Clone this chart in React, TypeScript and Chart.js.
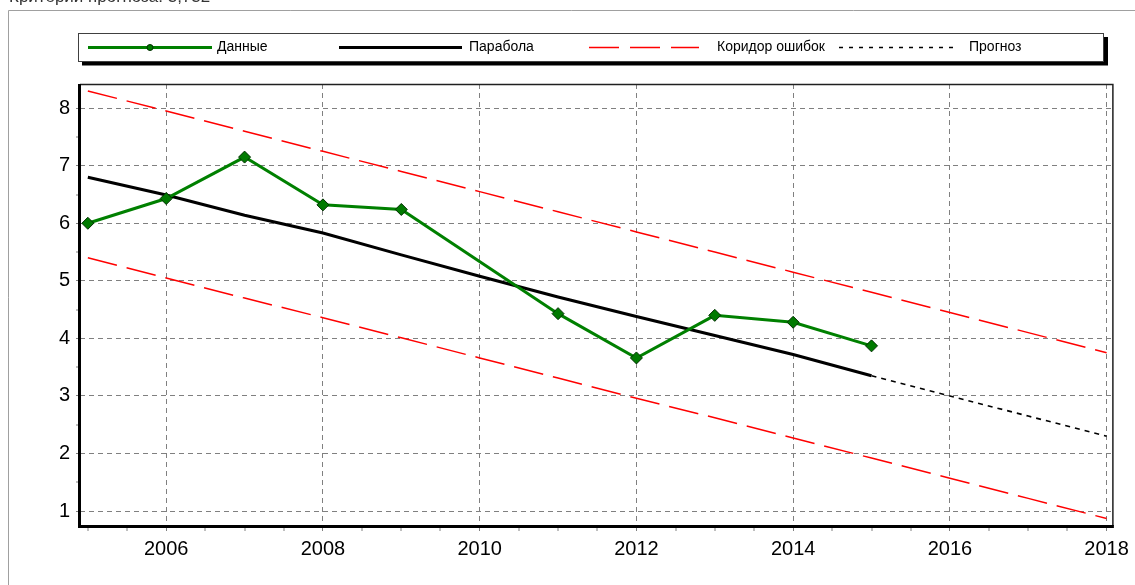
import React, { useEffect, useRef } from 'react';
import { Chart, registerables } from 'chart.js';

Chart.register(...registerables);

const FONT = '"Liberation Sans", Arial, sans-serif';

// ---- data ----
const dataYears = [2005, 2006, 2007, 2008, 2009, 2011, 2012, 2013, 2014, 2015];
const dataValues = [6.0, 6.43, 7.15, 6.32, 6.24, 4.43, 3.66, 4.4, 4.28, 3.87];

const fitYears = [2005, 2006, 2007, 2008, 2009, 2010, 2011, 2012, 2013, 2014, 2015];
const fitValues = [6.8, 6.49, 6.14, 5.83, 5.45, 5.08, 4.72, 4.38, 4.05, 3.72, 3.35];

const forecastYears = [2015, 2016, 2017, 2018];
const forecastValues = [3.35, 3.0, 2.65, 2.3];

const corridorYears = [2005, 2006, 2007, 2008, 2009, 2010, 2011, 2012, 2013, 2014, 2015, 2016, 2017, 2018];
const corridorUpper = [8.3, 7.95, 7.6, 7.25, 6.9, 6.55, 6.2, 5.85, 5.5, 5.15, 4.8, 4.45, 4.1, 3.75];
const corridorLower = [5.4, 5.05, 4.7, 4.36, 4.01, 3.66, 3.31, 2.96, 2.62, 2.27, 1.92, 1.57, 1.22, 0.87];

const seriesLabels = ['Данные', 'Парабола', 'Коридор ошибок', 'Прогноз'];

const xTickLabels = [2006, 2008, 2010, 2012, 2014, 2016, 2018];
const yTickLabels = [1, 2, 3, 4, 5, 6, 7, 8];
const xRange = [2004.9, 2018.08];
const yRange = [0.74, 8.42];
const headerText = 'Критерий прогноза: 3,732';

const pts = (xs: number[], ys: number[]) => xs.map((x, i) => ({ x, y: ys[i] }));

// half-step minor ticks between the first and last labelled values
const halfSteps = (from: number, to: number) => {
  const out: { value: number }[] = [];
  for (let v = from; v <= to + 1e-9; v += 0.5) out.push({ value: Math.round(v * 2) / 2 });
  return out;
};

const W = 1135;
const H = 585;

const framePlugin = {
  id: 'frame',
  beforeDraw(chart: any) {
    const ctx = chart.ctx;
    ctx.save();
    ctx.fillStyle = '#ffffff';
    ctx.fillRect(0, 0, W, H);
    ctx.strokeStyle = '#a0a0a0';
    ctx.lineWidth = 1;
    ctx.beginPath();
    ctx.moveTo(8.5, H);
    ctx.lineTo(8.5, 10.5);
    ctx.lineTo(W, 10.5);
    ctx.stroke();
    ctx.restore();
  },
  afterDatasetsDraw(chart: any) {
    const { left, top, right, bottom } = chart.chartArea;
    const ctx = chart.ctx;
    ctx.save();
    ctx.strokeStyle = '#202020';
    ctx.lineWidth = 1.5;
    ctx.beginPath();
    ctx.moveTo(left, top + 0.5);
    ctx.lineTo(right, top + 0.5);
    ctx.lineTo(right, bottom);
    ctx.stroke();
    ctx.strokeStyle = '#000000';
    ctx.lineWidth = 3;
    ctx.beginPath();
    ctx.moveTo(left - 0.5, top);
    ctx.lineTo(left - 0.5, bottom + 0.5);
    ctx.lineTo(right + 1, bottom + 0.5);
    ctx.stroke();
    ctx.restore();
  },
};

const legendSlots = [
  { x1: 88, x2: 212, tx: 217 },
  { x1: 339, x2: 462, tx: 469 },
  { x1: 589, x2: 699, tx: 717 },
  { x1: 839, x2: 956, tx: 969 },
];

const boxLegendPlugin = {
  id: 'boxLegend',
  afterDraw(chart: any) {
    const ctx = chart.ctx;
    const bx = 78, by = 33, bw = 1025, bh = 28;
    ctx.save();
    ctx.fillStyle = '#000';
    ctx.fillRect(bx + 4, by + 4, bw + 1, bh + 0.5);
    ctx.fillStyle = '#fff';
    ctx.fillRect(bx, by, bw, bh);
    ctx.strokeStyle = '#404040';
    ctx.lineWidth = 1;
    ctx.strokeRect(bx + 0.5, by + 0.5, bw, bh);
    const cy = by + bh / 2 + 0.5;
    const shown = chart.data.datasets.filter((d: any) => !d.hideInLegend);
    shown.forEach((ds: any, i: number) => {
      const s = legendSlots[i];
      if (!s) return;
      ctx.save();
      ctx.strokeStyle = ds.borderColor;
      ctx.lineWidth = ds.borderWidth;
      ctx.setLineDash(ds.legendDash || ds.borderDash || []);
      ctx.beginPath();
      ctx.moveTo(s.x1, cy);
      ctx.lineTo(s.x2, cy);
      ctx.stroke();
      ctx.setLineDash([]);
      if (ds.pointRadius > 0) {
        ctx.fillStyle = ds.pointBackgroundColor;
        ctx.strokeStyle = ds.pointBorderColor;
        ctx.lineWidth = 1;
        ctx.beginPath();
        ctx.arc((s.x1 + s.x2) / 2, cy, 3, 0, Math.PI * 2);
        ctx.fill();
        ctx.stroke();
      }
      ctx.fillStyle = '#000';
      ctx.font = `14px ${FONT}`;
      ctx.textBaseline = 'middle';
      ctx.textAlign = 'left';
      ctx.fillText(ds.label, s.tx, cy);
      ctx.restore();
    });
    ctx.restore();
  },
};

export default function App() {
  const canvasRef = useRef<HTMLCanvasElement | null>(null);

  useEffect(() => {
    const canvas = canvasRef.current;
    if (!canvas) return;
    const chart = new Chart(canvas, {
      type: 'line',
      data: {
        datasets: [
          {
            label: seriesLabels[0],
            data: pts(dataYears, dataValues),
            borderColor: '#008000',
            borderWidth: 3,
            pointStyle: 'rectRot',
            pointRadius: 6,
            pointBackgroundColor: '#007a00',
            pointBorderColor: '#003000',
            pointBorderWidth: 1,
            tension: 0,
          } as any,
          {
            label: seriesLabels[1],
            data: pts(fitYears, fitValues),
            borderColor: '#000000',
            borderWidth: 3,
            pointRadius: 0,
            tension: 0,
          },
          {
            label: seriesLabels[2],
            data: pts(corridorYears, corridorUpper),
            borderColor: '#ff0000',
            borderWidth: 1.5,
            borderDash: [30, 10],
            legendDash: [30, 11],
            pointRadius: 0,
            tension: 0,
          } as any,
          {
            label: seriesLabels[3],
            data: pts(forecastYears, forecastValues),
            borderColor: '#000000',
            borderWidth: 1.6,
            borderDash: [5, 5],
            legendDash: [4, 6],
            pointRadius: 0,
            tension: 0,
          } as any,
          {
            label: seriesLabels[2],
            hideInLegend: true,
            data: pts(corridorYears, corridorLower),
            borderColor: '#ff0000',
            borderWidth: 1.5,
            borderDash: [30, 10],
            pointRadius: 0,
            tension: 0,
          } as any,
        ],
      },
      options: {
        responsive: false,
        animation: false,
        layout: { padding: { left: 0, top: 84, right: 22, bottom: 0 } },
        plugins: {
          legend: { display: false },
          tooltip: { enabled: false },
          title: { display: false },
        },
        scales: {
          x: {
            type: 'linear',
            min: xRange[0],
            max: xRange[1],
            afterBuildTicks: (scale: any) => {
              scale.ticks = halfSteps(xTickLabels[0] - 1, xTickLabels[xTickLabels.length - 1]);
            },
            afterFit: (scale: any) => {
              scale.height = H - 526;
            },
            ticks: {
              autoSkip: false,
              maxRotation: 0,
              padding: 6,
              color: '#000',
              font: { family: FONT, size: 20 },
              callback: (v: any) => (xTickLabels.includes(Number(v)) ? String(v) : ''),
            },
            grid: {
              color: '#808080',
              lineWidth: (c: any) => (c.tick && xTickLabels.includes(c.tick.value) ? 1 : 0),
              tickColor: '#808080',
              tickLength: 5,
              tickWidth: 1,
            },
            border: { display: false, dash: [5, 4] },
          },
          y: {
            type: 'linear',
            min: yRange[0],
            max: yRange[1],
            afterBuildTicks: (scale: any) => {
              scale.ticks = halfSteps(yTickLabels[0], yTickLabels[yTickLabels.length - 1]);
            },
            afterFit: (scale: any) => {
              scale.width = 80;
            },
            ticks: {
              autoSkip: false,
              padding: 6,
              color: '#000',
              font: { family: FONT, size: 20 },
              callback: (v: any) => (yTickLabels.includes(Number(v)) ? String(v) : ''),
            },
            grid: {
              color: '#808080',
              lineWidth: (c: any) => (c.tick && yTickLabels.includes(c.tick.value) ? 1 : 0),
              tickColor: '#808080',
              tickLength: 4,
              tickWidth: 1,
            },
            border: { display: false, dash: [5, 4] },
          },
        },
      },
      plugins: [framePlugin, boxLegendPlugin],
    });
    return () => chart.destroy();
  }, []);

  return (
    <div style={{ position: 'absolute', left: 0, top: 0, width: W, height: H, overflow: 'hidden', background: '#fff' }}>
      <canvas ref={canvasRef} width={W} height={H} style={{ position: 'absolute', left: 0, top: 0, width: W, height: H }} />
      <div
        style={{
          position: 'absolute',
          left: 9,
          top: -13,
          fontFamily: FONT,
          fontSize: 17,
          color: '#333',
          whiteSpace: 'nowrap',
        }}
      >
        {headerText}
      </div>
    </div>
  );
}
